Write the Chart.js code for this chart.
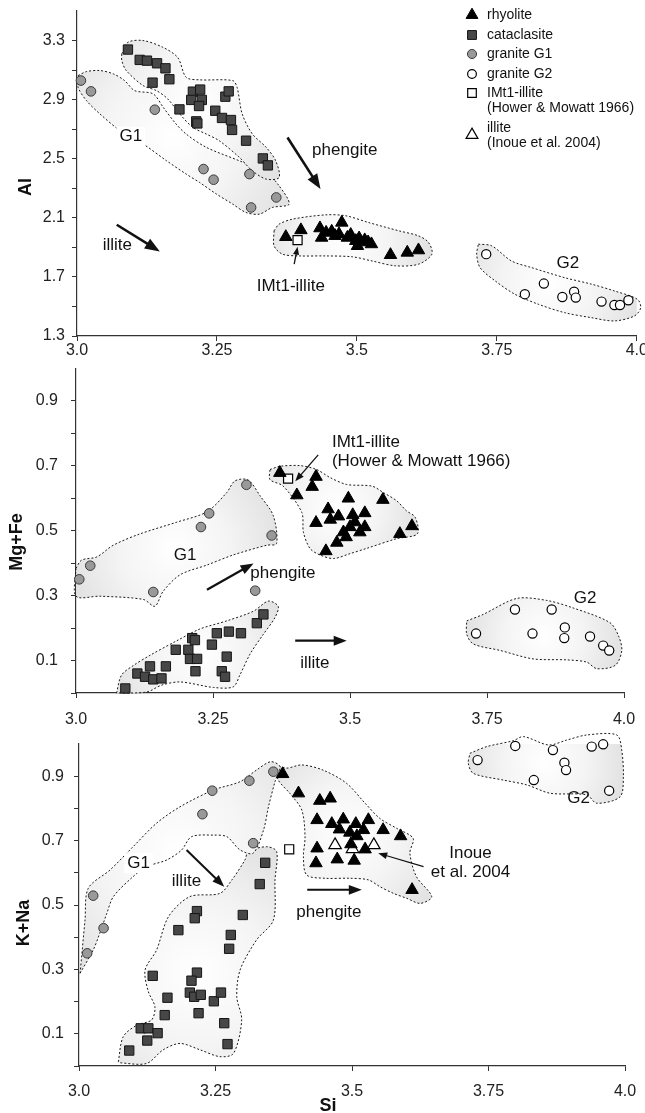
<!DOCTYPE html>
<html>
<head>
<meta charset="utf-8">
<script src="https://cdn.jsdelivr.net/npm/chart.js@4.4.1/dist/chart.umd.min.js"></script>
<style>
  body { margin: 0; background: #fff; width: 645px; height: 1113px; overflow: hidden; position: relative; }
  canvas { position: absolute; left: 0; }
</style>
</head>
<body>
<canvas id="alChart" width="645" height="360" style="top:0"></canvas>
<canvas id="mgChart" width="645" height="370" style="top:360px"></canvas>
<canvas id="kChart" width="645" height="383" style="top:730px"></canvas>
<script>
const FONT = '"Liberation Sans", Arial, sans-serif';

// x axis (Si), shared by the three panels
const siTicks = [3.0, 3.25, 3.5, 3.75, 4.0];
const siLabels = ['3.0', '3.25', '3.5', '3.75', '4.0'];

// y ticks
const alTicks = [1.3, 1.5, 1.7, 1.9, 2.1, 2.3, 2.5, 2.7, 2.9, 3.1, 3.3];
const alLabels = ['1.3', '', '1.7', '', '2.1', '', '2.5', '', '2.9', '', '3.3'];
const fracTicks = [0, 0.1, 0.2, 0.3, 0.4, 0.5, 0.6, 0.7, 0.8, 0.9];
const fracLabels = ['', '0.1', '', '0.3', '', '0.5', '', '0.7', '', '0.9'];

// ---- panel 1: Si vs Al ----
const alRhyolite = [[3.373,1.971],[3.400,2.017],[3.434,2.030],[3.437,1.966],[3.445,2.000],[3.455,2.007],[3.461,1.978],[3.468,1.990],[3.473,2.068],[3.483,1.966],[3.489,1.985],[3.498,1.944],[3.501,1.910],[3.504,1.962],[3.514,1.949],[3.520,1.935],[3.526,1.922],[3.560,1.849],[3.590,1.865],[3.610,1.881]];
const alCataclasite = [[3.091,3.239],[3.112,3.169],[3.125,3.164],[3.143,3.146],[3.158,3.112],[3.165,3.038],[3.135,3.015],[3.207,2.954],[3.220,2.968],[3.204,2.898],[3.223,2.898],[3.218,2.857],[3.183,2.834],[3.265,2.920],[3.271,2.956],[3.247,2.825],[3.259,2.776],[3.275,2.762],[3.277,2.695],[3.213,2.753],[3.215,2.739],[3.302,2.622],[3.332,2.502],[3.341,2.455]];
const alGraniteG1 = [[3.007,3.029],[3.025,2.956],[3.139,2.832],[3.226,2.430],[3.244,2.358],[3.308,2.396],[3.356,2.238],[3.311,2.170]];
const alGraniteG2 = [[3.731,1.854],[3.800,1.583],[3.834,1.655],[3.867,1.564],[3.888,1.600],[3.891,1.560],[3.937,1.533],[3.960,1.510],[3.970,1.510],[3.985,1.542]];
const alIMt1 = [[3.394,1.949]];

const alEnvCataclasite = [[3.080,3.210],[3.091,3.288],[3.118,3.300],[3.153,3.255],[3.180,3.185],[3.195,3.051],[3.219,3.034],[3.278,3.029],[3.286,2.983],[3.295,2.805],[3.313,2.669],[3.338,2.577],[3.355,2.486],[3.361,2.373],[3.338,2.362],[3.313,2.419],[3.290,2.509],[3.254,2.622],[3.231,2.667],[3.207,2.712],[3.186,2.792],[3.162,2.905],[3.142,2.961],[3.118,2.995],[3.088,3.097],[3.080,3.164]];
const alEnvG1 = [[3.002,3.063],[3.017,3.090],[3.041,3.097],[3.065,3.074],[3.085,3.029],[3.103,2.961],[3.136,2.939],[3.154,2.848],[3.177,2.735],[3.195,2.667],[3.231,2.577],[3.290,2.486],[3.338,2.407],[3.361,2.317],[3.379,2.193],[3.349,2.170],[3.326,2.125],[3.302,2.136],[3.278,2.193],[3.249,2.261],[3.219,2.339],[3.195,2.396],[3.160,2.486],[3.118,2.600],[3.077,2.690],[3.041,2.803],[3.017,2.893],[3.002,2.983]];
const alEnvRhyolite = [[3.352,2.012],[3.361,2.057],[3.385,2.091],[3.444,2.120],[3.480,2.114],[3.521,2.068],[3.575,2.012],[3.610,1.978],[3.628,1.933],[3.634,1.854],[3.610,1.786],[3.569,1.775],[3.527,1.808],[3.492,1.836],[3.444,1.842],[3.397,1.842],[3.367,1.854],[3.352,1.910]];
const alEnvG2 = [[3.717,1.922],[3.741,1.910],[3.776,1.808],[3.812,1.763],[3.871,1.695],[3.919,1.651],[3.960,1.605],[4.001,1.549],[4.007,1.492],[3.996,1.436],[3.960,1.402],[3.919,1.424],[3.871,1.458],[3.824,1.515],[3.782,1.583],[3.747,1.673],[3.720,1.763],[3.714,1.854]];

// ---- panel 2: Si vs Mg+Fe ----
const mgRhyolite = [[3.372,0.678],[3.438,0.666],[3.431,0.635],[3.403,0.609],[3.497,0.599],[3.560,0.595],[3.460,0.566],[3.479,0.544],[3.464,0.534],[3.505,0.548],[3.527,0.554],[3.438,0.524],[3.500,0.511],[3.488,0.495],[3.518,0.495],[3.527,0.511],[3.476,0.463],[3.456,0.437],[3.591,0.490],[3.613,0.514],[3.493,0.480],[3.509,0.526]];
const mgCataclasite = [[3.090,0.014],[3.112,0.060],[3.126,0.050],[3.135,0.082],[3.141,0.042],[3.156,0.045],[3.164,0.082],[3.182,0.133],[3.205,0.133],[3.208,0.105],[3.221,0.105],[3.212,0.169],[3.217,0.163],[3.218,0.067],[3.248,0.149],[3.257,0.184],[3.279,0.189],[3.301,0.184],[3.275,0.112],[3.266,0.067],[3.272,0.050],[3.330,0.215],[3.342,0.242]];
const mgGraniteG1 = [[3.006,0.350],[3.026,0.392],[3.141,0.311],[3.228,0.511],[3.243,0.553],[3.311,0.641],[3.357,0.485],[3.327,0.315]];
const mgGraniteG2 = [[3.730,0.183],[3.801,0.257],[3.833,0.183],[3.868,0.257],[3.892,0.202],[3.891,0.169],[3.938,0.174],[3.962,0.146],[3.973,0.131]];
const mgIMt1 = [[3.387,0.660]];

const mgEnvG1 = [[3.000,0.384],[3.010,0.409],[3.038,0.419],[3.068,0.455],[3.117,0.490],[3.184,0.526],[3.239,0.558],[3.275,0.617],[3.290,0.653],[3.314,0.656],[3.336,0.607],[3.360,0.546],[3.366,0.460],[3.348,0.455],[3.287,0.425],[3.239,0.394],[3.190,0.364],[3.159,0.313],[3.144,0.267],[3.123,0.288],[3.044,0.298],[3.000,0.298]];
const mgEnvCataclasite = [[3.074,0.000],[3.083,0.055],[3.105,0.085],[3.135,0.116],[3.184,0.161],[3.226,0.197],[3.275,0.222],[3.324,0.252],[3.351,0.283],[3.369,0.267],[3.363,0.232],[3.342,0.181],[3.318,0.121],[3.299,0.055],[3.287,0.019],[3.251,0.017],[3.190,0.034],[3.156,0.024],[3.129,0.003]];
const mgEnvRhyolite = [[3.354,0.688],[3.372,0.698],[3.409,0.700],[3.439,0.688],[3.464,0.663],[3.494,0.642],[3.540,0.637],[3.561,0.617],[3.585,0.592],[3.603,0.561],[3.619,0.541],[3.623,0.490],[3.585,0.475],[3.530,0.445],[3.500,0.429],[3.470,0.414],[3.445,0.425],[3.427,0.445],[3.415,0.495],[3.412,0.556],[3.378,0.637],[3.354,0.657]];
const mgEnvG2 = [[3.713,0.222],[3.743,0.242],[3.804,0.291],[3.859,0.285],[3.907,0.262],[3.974,0.217],[3.990,0.176],[3.996,0.131],[3.984,0.085],[3.950,0.075],[3.932,0.095],[3.895,0.102],[3.834,0.105],[3.774,0.131],[3.725,0.151],[3.713,0.181]];

// ---- panel 3: Si vs K+Na ----
const kRhyolite = [[3.373,0.907],[3.402,0.847],[3.441,0.824],[3.460,0.831],[3.436,0.764],[3.463,0.752],[3.484,0.766],[3.477,0.735],[3.507,0.752],[3.496,0.725],[3.509,0.714],[3.521,0.733],[3.530,0.764],[3.557,0.733],[3.589,0.714],[3.436,0.676],[3.498,0.689],[3.524,0.673],[3.434,0.630],[3.473,0.642],[3.504,0.638],[3.610,0.547]];
const kCataclasite = [[3.341,0.631],[3.331,0.565],[3.216,0.481],[3.212,0.459],[3.300,0.469],[3.182,0.422],[3.278,0.407],[3.275,0.364],[3.135,0.280],[3.216,0.290],[3.206,0.265],[3.203,0.228],[3.211,0.215],[3.223,0.221],[3.162,0.212],[3.247,0.201],[3.260,0.228],[3.157,0.158],[3.219,0.164],[3.266,0.133],[3.113,0.117],[3.127,0.117],[3.144,0.102],[3.125,0.079],[3.272,0.068],[3.092,0.048]];
const kGraniteG1 = [[3.015,0.350],[3.026,0.529],[3.045,0.428],[3.226,0.782],[3.244,0.855],[3.312,0.886],[3.356,0.914],[3.319,0.692]];
const kGraniteG2 = [[3.730,0.950],[3.799,0.994],[3.868,0.981],[3.889,0.942],[3.892,0.919],[3.833,0.888],[3.939,0.992],[3.960,0.999],[3.971,0.855]];
const kIMt1 = [[3.385,0.673]];
const kInoue = [[3.469,0.686],[3.501,0.674],[3.540,0.686]];

const kEnvG1 = [[3.002,0.288],[3.011,0.453],[3.017,0.552],[3.057,0.609],[3.099,0.681],[3.142,0.754],[3.185,0.805],[3.246,0.857],[3.295,0.883],[3.325,0.919],[3.351,0.945],[3.368,0.930],[3.359,0.883],[3.347,0.805],[3.338,0.733],[3.319,0.661],[3.295,0.671],[3.271,0.712],[3.246,0.717],[3.206,0.712],[3.188,0.671],[3.161,0.640],[3.124,0.619],[3.099,0.588],[3.063,0.526],[3.051,0.474],[3.038,0.412],[3.026,0.360]];
const kEnvCataclasite = [[3.072,0.013],[3.081,0.091],[3.106,0.127],[3.133,0.143],[3.139,0.184],[3.127,0.231],[3.121,0.298],[3.142,0.360],[3.164,0.464],[3.203,0.526],[3.258,0.536],[3.280,0.578],[3.304,0.640],[3.310,0.666],[3.344,0.681],[3.362,0.666],[3.359,0.578],[3.356,0.453],[3.325,0.391],[3.295,0.298],[3.289,0.215],[3.298,0.143],[3.283,0.039],[3.258,0.029],[3.222,0.050],[3.185,0.070],[3.154,0.050],[3.124,0.008],[3.075,0.010]];
const kEnvRhyolite = [[3.359,0.935],[3.380,0.925],[3.408,0.935],[3.447,0.919],[3.490,0.878],[3.524,0.816],[3.551,0.769],[3.582,0.738],[3.612,0.707],[3.606,0.661],[3.618,0.588],[3.646,0.526],[3.625,0.505],[3.600,0.521],[3.576,0.536],[3.551,0.557],[3.530,0.578],[3.496,0.583],[3.451,0.583],[3.417,0.593],[3.411,0.650],[3.414,0.712],[3.408,0.795],[3.386,0.847],[3.365,0.888]];
const kEnvG2 = [[3.716,0.971],[3.747,0.992],[3.795,1.010],[3.814,1.023],[3.860,0.997],[3.893,1.012],[3.930,1.028],[3.985,1.028],[3.994,0.981],[3.997,0.898],[3.991,0.836],[3.948,0.816],[3.930,0.842],[3.863,0.847],[3.820,0.873],[3.777,0.888],[3.722,0.909],[3.713,0.940]];

// marker styles
const STYLE = {
  rhyolite:    { pointStyle: 'triangle', radius: 7.2, bg: '#000',    border: '#000', bw: 1 },
  cataclasite: { pointStyle: 'rect',     radius: 6.6, bg: '#474747', border: '#151515', bw: 1 },
  g1:          { pointStyle: 'circle',   radius: 4.8, bg: '#999',    border: '#3a3a3a', bw: 1 },
  g2:          { pointStyle: 'circle',   radius: 4.6, bg: '#fff',    border: '#000', bw: 1.2 },
  imt1:        { pointStyle: 'rect',     radius: 6.4, bg: '#fff',    border: '#000', bw: 1.2 },
  inoue:       { pointStyle: 'triangle', radius: 7.2, bg: '#fff',    border: '#000', bw: 1.2 }
};

function toXY(pts) { return pts.map(p => ({ x: p[0], y: p[1] })); }

function points(pts, key) {
  const s = STYLE[key];
  return {
    data: toXY(pts), pointStyle: s.pointStyle, pointRadius: s.radius,
    backgroundColor: s.bg, borderColor: s.border, borderWidth: s.bw, order: 1, clip: false
  };
}

// light centre, grey edge, like the shaded fields of the figure
function envFill(c) {
  const chart = c.chart;
  if (!chart.chartArea || !c.dataset) return '#eee';
  const xs = chart.scales.x, ys = chart.scales.y;
  const px = c.dataset.data.map(p => [xs.getPixelForValue(p.x), ys.getPixelForValue(p.y)]);
  let cx = 0, cy = 0;
  px.forEach(p => { cx += p[0]; cy += p[1]; });
  cx /= px.length; cy /= px.length;
  let r = 0;
  px.forEach(p => { r = Math.max(r, Math.hypot(p[0] - cx, p[1] - cy)); });
  const g = chart.ctx.createRadialGradient(cx, cy, 0, cx, cy, r);
  g.addColorStop(0, '#ffffff');
  g.addColorStop(0.5, '#f4f4f4');
  g.addColorStop(1, '#e1e1e1');
  return g;
}

function envelope(pts) {
  const closed = pts.concat([pts[0]]);
  return {
    data: toXY(closed), showLine: true, fill: 'shape', tension: 0.3,
    capBezierPoints: false, backgroundColor: envFill,
    borderColor: '#1a1a1a', borderWidth: 1, borderDash: [2, 2],
    pointRadius: 0, order: 5, clip: false
  };
}

function drawArrow(ctx, x1, y1, x2, y2, w, head) {
  const a = Math.atan2(y2 - y1, x2 - x1);
  const ca = Math.cos(a), sa = Math.sin(a);
  ctx.lineWidth = w;
  ctx.beginPath();
  ctx.moveTo(x1, y1);
  ctx.lineTo(x2 - ca * head * 0.8, y2 - sa * head * 0.8);
  ctx.stroke();
  const hw = head * 0.38;
  ctx.beginPath();
  ctx.moveTo(x2, y2);
  ctx.lineTo(x2 - ca * head + sa * hw, y2 - sa * head - ca * hw);
  ctx.lineTo(x2 - ca * head - sa * hw, y2 - sa * head + ca * hw);
  ctx.closePath();
  ctx.fill();
}

function overlay(cfg) {
  return {
    id: 'overlay',
    afterDatasetsDraw(chart) {
      const ctx = chart.ctx, xs = chart.scales.x, ys = chart.scales.y;
      ctx.save();
      ctx.fillStyle = '#111';
      ctx.strokeStyle = '#111';
      (cfg.arrows || []).forEach(a => {
        drawArrow(ctx, xs.getPixelForValue(a[0]), ys.getPixelForValue(a[1]),
          xs.getPixelForValue(a[2]), ys.getPixelForValue(a[3]), a[4], a[5]);
      });
      ctx.textBaseline = 'middle';
      (cfg.labels || []).forEach(l => {
        ctx.font = (l.size || 17) + 'px ' + FONT;
        ctx.textAlign = l.align || 'left';
        const x = xs.getPixelForValue(l.x), y = ys.getPixelForValue(l.y);
        if (l.box) {
          const w = ctx.measureText(l.text).width;
          ctx.fillStyle = '#fff';
          ctx.fillRect(x - w / 2 - 3, y - 10, w + 6, 20);
          ctx.fillStyle = '#111';
        }
        ctx.fillText(l.text, x, y);
      });
      // axis titles
      (cfg.titles || []).forEach(t => {
        ctx.save();
        ctx.font = 'bold 18px ' + FONT;
        ctx.textAlign = 'center';
        ctx.translate(t.x, t.y);
        if (t.rotate) ctx.rotate(-Math.PI / 2);
        ctx.fillText(t.text, 0, 0);
        ctx.restore();
      });
      if (cfg.legend) drawLegend(ctx);
      ctx.restore();
    }
  };
}

function drawLegend(ctx) {
  const rows = [
    { key: 'rhyolite', y: 15, text: ['rhyolite'] },
    { key: 'cataclasite', y: 35, text: ['cataclasite'] },
    { key: 'g1', y: 54, text: ['granite G1'] },
    { key: 'g2', y: 74, text: ['granite G2'] },
    { key: 'imt1', y: 93, text: ['IMt1-illite', '(Hower & Mowatt 1966)'] },
    { key: 'inoue', y: 135, text: ['illite', '(Inoue et al. 2004)'] }
  ];
  ctx.font = '14px ' + FONT;
  ctx.textAlign = 'left';
  ctx.textBaseline = 'middle';
  rows.forEach(r => {
    const s = STYLE[r.key];
    ctx.fillStyle = s.bg;
    ctx.strokeStyle = s.border;
    ctx.lineWidth = s.bw;
    Chart.helpers.drawPoint(ctx, { pointStyle: s.pointStyle, radius: s.radius * 0.95, borderWidth: s.bw, rotation: 0 }, 472, r.y);
    ctx.fillStyle = '#111';
    if (r.key === 'inoue') {
      ctx.fillText(r.text[0], 487, r.y - 7);
      ctx.fillText(r.text[1], 487, r.y + 8);
    } else {
      r.text.forEach((t, i) => ctx.fillText(t, 487, r.y + i * 15));
    }
  });
}

function makeChart(id, opt) {
  return new Chart(document.getElementById(id), {
    type: 'scatter',
    data: { datasets: opt.datasets },
    options: {
      responsive: false, animation: false, events: [], devicePixelRatio: 1,
      layout: { padding: opt.padding },
      plugins: { legend: { display: false }, tooltip: { enabled: false } },
      scales: {
        x: {
          type: 'linear', min: 3.0, max: 4.0,
          afterBuildTicks: s => { s.ticks = siTicks.map(v => ({ value: v })); },
          afterFit: s => { s.height = opt.xHeight; s.paddingLeft = 0; s.paddingRight = 0; },
          ticks: { autoSkip: false, maxRotation: 0, padding: opt.xPad, color: '#222',
            font: { family: FONT, size: 16 }, callback: (v, i) => siLabels[i] },
          grid: { drawOnChartArea: false, drawTicks: true, tickLength: 5, color: '#333' },
          border: { display: true, color: '#333', width: 1.2 }
        },
        y: {
          type: 'linear', min: opt.yMin, max: opt.yMax,
          afterBuildTicks: s => { s.ticks = opt.yTicks.map(v => ({ value: v })); },
          afterFit: s => { s.width = opt.yWidth; s.paddingTop = 0; s.paddingBottom = 0; },
          ticks: { autoSkip: false, padding: opt.yPad, color: '#222',
            font: { family: FONT, size: 16 }, callback: (v, i) => opt.yLabels[i] },
          grid: { drawOnChartArea: false, drawTicks: true, tickLength: 5, color: '#333' },
          border: { display: true, color: '#333', width: 1.2 }
        }
      }
    },
    plugins: [overlay(opt.overlay)]
  });
}

makeChart('alChart', {
  padding: { top: 11, right: 6, left: 0, bottom: 0 },
  xHeight: 24, yWidth: 77, xPad: 0, yPad: 7,
  yMin: 1.3, yMax: 3.5, yTicks: alTicks, yLabels: alLabels,
  datasets: [
    envelope(alEnvCataclasite), envelope(alEnvG1), envelope(alEnvRhyolite), envelope(alEnvG2),
    points(alCataclasite, 'cataclasite'), points(alGraniteG1, 'g1'), points(alGraniteG2, 'g2'),
    points(alRhyolite, 'rhyolite'), points(alIMt1, 'imt1')
  ],
  overlay: {
    legend: true,
    titles: [{ text: 'Al', x: 26, y: 187, rotate: true }],
    arrows: [
      [3.376, 2.644, 3.435, 2.295, 2.6, 15],
      [3.071, 2.053, 3.148, 1.872, 2.6, 15],
      [3.388, 1.786, 3.394, 1.905, 1.3, 8]
    ],
    labels: [
      { text: 'G1', x: 3.096, y: 2.649, align: 'center', box: true },
      { text: 'G2', x: 3.877, y: 1.795, align: 'center' },
      { text: 'phengite', x: 3.420, y: 2.554 },
      { text: 'illite', x: 3.046, y: 1.917 },
      { text: 'IMt1-illite', x: 3.382, y: 1.639, align: 'center' }
    ]
  }
});

makeChart('mgChart', {
  padding: { top: 4, right: 21, left: 0, bottom: 0 },
  xHeight: 37, yWidth: 76, xPad: 12, yPad: 13,
  yMin: 0, yMax: 1.0, yTicks: fracTicks, yLabels: fracLabels,
  datasets: [
    envelope(mgEnvG1), envelope(mgEnvCataclasite), envelope(mgEnvRhyolite), envelope(mgEnvG2),
    points(mgCataclasite, 'cataclasite'), points(mgGraniteG1, 'g1'), points(mgGraniteG2, 'g2'),
    points(mgRhyolite, 'rhyolite'), points(mgIMt1, 'imt1')
  ],
  overlay: {
    titles: [{ text: 'Mg+Fe', x: 17, y: 182, rotate: true }],
    arrows: [
      [3.239, 0.318, 3.324, 0.399, 2.2, 13],
      [3.400, 0.161, 3.494, 0.161, 2.2, 13],
      [3.442, 0.733, 3.400, 0.652, 1.3, 9]
    ],
    labels: [
      { text: 'G1', x: 3.199, y: 0.424, align: 'center' },
      { text: 'G2', x: 3.929, y: 0.290, align: 'center' },
      { text: 'phengite', x: 3.318, y: 0.368 },
      { text: 'illite', x: 3.409, y: 0.090 },
      { text: 'IMt1-illite', x: 3.467, y: 0.771 },
      { text: '(Hower & Mowatt 1966)', x: 3.467, y: 0.713 }
    ]
  }
});

makeChart('kChart', {
  padding: { top: 14, right: 20, left: 0, bottom: 0 },
  xHeight: 47, yWidth: 79, xPad: 11, yPad: 10,
  yMin: 0, yMax: 1.0, yTicks: fracTicks, yLabels: fracLabels,
  datasets: [
    envelope(kEnvG1), envelope(kEnvCataclasite), envelope(kEnvRhyolite), envelope(kEnvG2),
    points(kCataclasite, 'cataclasite'), points(kGraniteG1, 'g1'), points(kGraniteG2, 'g2'),
    points(kRhyolite, 'rhyolite'), points(kIMt1, 'imt1'), points(kInoue, 'inoue')
  ],
  overlay: {
    titles: [
      { text: 'K+Na', x: 24, y: 193, rotate: true },
      { text: 'Si', x: 328, y: 376, rotate: false }
    ],
    arrows: [
      [3.197, 0.671, 3.266, 0.557, 2, 12],
      [3.418, 0.547, 3.518, 0.547, 2, 13],
      [3.631, 0.619, 3.548, 0.661, 1.2, 9]
    ],
    labels: [
      { text: 'G1', x: 3.109, y: 0.630, align: 'center', box: true },
      { text: 'G2', x: 3.915, y: 0.831, align: 'center' },
      { text: 'illite', x: 3.170, y: 0.575 },
      { text: 'phengite', x: 3.398, y: 0.476 },
      { text: 'Inoue', x: 3.717, y: 0.660, align: 'center' },
      { text: 'et al. 2004', x: 3.717, y: 0.603, align: 'center' }
    ]
  }
});
</script>
</body>
</html>
